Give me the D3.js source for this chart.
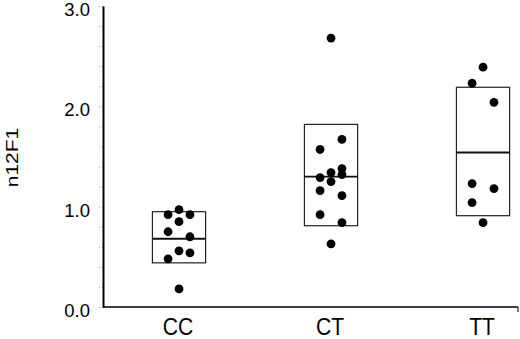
<!DOCTYPE html>
<html>
<head>
<meta charset="utf-8">
<script src="https://cdn.jsdelivr.net/npm/d3@7"></script>
<style>
  body { margin: 0; background: #fff; }
  svg { display: block; font-family: "Liberation Sans", Arial, sans-serif; }
</style>
</head>
<body>
<div id="chart"></div>
<script>
// Groups and their positions on the x axis
var groups = ["CC", "CT", "TT"];

// Box summaries (bottom, median, top)
var boxLow = [0.44, 0.81, 0.91];
var boxMid = [0.68, 1.30, 1.54];
var boxHigh = [0.95, 1.82, 2.19];

// Individual values, with the column each dot sits in (-1 left, 0 centre, 1 right)
var ccValues = [0.97, 0.92, 0.92, 0.85, 0.75, 0.70, 0.56, 0.54, 0.48, 0.18];
var ccSlots  = [0, -1, 1, 0, -1, 1, 0, 1, -1, 0];
var ctValues = [2.68, 1.67, 1.57, 1.38, 1.34, 1.32, 1.29, 1.25, 1.16, 1.11, 0.92, 0.84, 0.63];
var ctSlots  = [0, 1, -1, 1, 0, 1, -1, 0, -1, 1, -1, 1, 0];
var ttValues = [2.39, 2.23, 2.04, 1.23, 1.18, 1.04, 0.84];
var ttSlots  = [0, -1, 1, -1, 1, -1, 0];

var yTicks = [0, 1, 2, 3];

var width = 520, height = 339;
var margin = { top: 6, right: 2, bottom: 32, left: 103 };

var svg = d3.select("#chart").append("svg")
  .attr("width", width)
  .attr("height", height);

var x = d3.scaleLinear().domain([0.5, 3.23]).range([margin.left, width - margin.right]);
var y = d3.scaleLinear().domain([0, 3]).range([height - margin.bottom, margin.top]);

// minor ticks every 0.2
svg.append("g")
  .attr("transform", "translate(" + margin.left + ",0)")
  .call(d3.axisLeft(y).tickValues(d3.range(0, 3.01, 0.2)).tickSize(4).tickFormat(""))
  .call(function(g) {
    g.select(".domain").remove();
    g.selectAll(".tick line").attr("stroke", "#999").attr("stroke-dasharray", "1,2");
  });

// y axis with labels
svg.append("g")
  .attr("transform", "translate(" + margin.left + ",0)")
  .call(d3.axisLeft(y).tickValues(yTicks).tickSize(0).tickPadding(13).tickFormat(d3.format(".1f")))
  .call(function(g) {
    g.select(".domain").attr("stroke", "#000").attr("stroke-width", 2);
    g.selectAll("text")
      .attr("font-size", "18.5px")
      .attr("font-family", "Liberation Sans, Arial, sans-serif")
      .attr("fill", "#000")
      .attr("dy", "0.52em");
  });

// x axis
var xAxisY = y(0);
svg.append("line")
  .attr("x1", margin.left).attr("x2", width - margin.right)
  .attr("y1", xAxisY).attr("y2", xAxisY)
  .attr("stroke", "#000").attr("stroke-width", 1.5);
svg.append("line")
  .attr("x1", width - margin.right).attr("x2", width - margin.right)
  .attr("y1", xAxisY).attr("y2", xAxisY + 5)
  .attr("stroke", "#000").attr("stroke-width", 1);

// group labels: the source lettering is a little taller than it is wide
svg.selectAll(".glabel")
  .data(groups)
  .enter()
  .append("text")
  .attr("class", "glabel")
  .attr("transform", function(d, i) { return "translate(" + (x(i + 1) - 1) + "," + (height - 4) + ") scale(0.88,1)"; })
  .attr("text-anchor", "middle")
  .attr("font-size", "24px")
  .text(function(d) { return d; });

// y axis title
svg.append("text")
  .attr("transform", "translate(18," + y(1.49) + ") rotate(-90) scale(1,0.76)")
  .attr("text-anchor", "middle")
  .attr("font-size", "21px")
  .text("n12F1");

// boxes
var boxHalf = 0.175;
var boxes = svg.selectAll(".box")
  .data(groups)
  .enter()
  .append("g")
  .attr("class", "box");

boxes.append("rect")
  .attr("x", function(d, i) { return x(i + 1 - boxHalf); })
  .attr("y", function(d, i) { return y(boxHigh[i]); })
  .attr("width", function(d, i) { return x(i + 1 + boxHalf) - x(i + 1 - boxHalf); })
  .attr("height", function(d, i) { return y(boxLow[i]) - y(boxHigh[i]); })
  .attr("fill", "none")
  .attr("stroke", "#222")
  .attr("stroke-width", 1.2);

boxes.append("line")
  .attr("x1", function(d, i) { return x(i + 1 - boxHalf); })
  .attr("x2", function(d, i) { return x(i + 1 + boxHalf); })
  .attr("y1", function(d, i) { return y(boxMid[i]); })
  .attr("y2", function(d, i) { return y(boxMid[i]); })
  .attr("stroke", "#111")
  .attr("stroke-width", 1.8);

// dots
var points = [];
[ccValues, ctValues, ttValues].forEach(function(vals, gi) {
  var slots = [ccSlots, ctSlots, ttSlots][gi];
  vals.forEach(function(v, j) {
    points.push({ group: gi + 1, value: v, slot: slots[j] });
  });
});

var slotStep = 0.072;
svg.selectAll(".dot")
  .data(points)
  .enter()
  .append("circle")
  .attr("class", "dot")
  .attr("cx", function(d) { return x(d.group + d.slot * slotStep); })
  .attr("cy", function(d) { return y(d.value); })
  .attr("r", 4.4)
  .attr("fill", "#000");
</script>
</body>
</html>
